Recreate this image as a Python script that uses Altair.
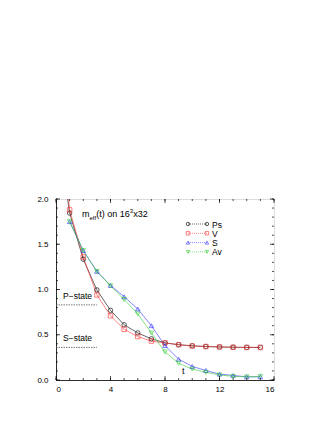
import altair as alt
import pandas as pd

t_ps = [0, 1, 2, 3, 4, 5, 6, 7, 8, 9, 10, 11, 12, 13, 14, 15]
ps = [2.9, 1.845, 1.335, 0.995, 0.77, 0.61, 0.52, 0.455, 0.41, 0.39, 0.378, 0.37, 0.365, 0.362, 0.36, 0.36]
t_v = [0, 1, 2, 3, 4, 5, 6, 7, 8, 9, 10, 11, 12, 13, 14, 15]
v = [3.6, 1.88, 1.36, 0.94, 0.71, 0.56, 0.48, 0.43, 0.41, 0.39, 0.375, 0.37, 0.365, 0.362, 0.36, 0.36]
t_s = [1, 2, 3, 4, 5, 6, 7, 8, 9, 10, 11, 12, 13, 14, 15]
s = [1.75, 1.43, 1.2, 1.045, 0.92, 0.785, 0.6, 0.38, 0.23, 0.15, 0.105, 0.065, 0.05, 0.035, 0.035]
t_av = [1, 2, 3, 4, 5, 6, 7, 8, 9, 10, 11, 12, 13, 14, 15]
av = [1.75, 1.43, 1.2, 1.04, 0.89, 0.73, 0.52, 0.31, 0.185, 0.12, 0.085, 0.055, 0.04, 0.035, 0.04]

series_names = ["Ps", "V", "S", "Av"]
series_colors = ["#000000", "#ff3333", "#3333ff", "#33cc33"]
series_shapes = ["circle", "square", "triangle-up", "triangle-down"]

x_major = [0, 4, 8, 12, 16]
x_minor = list(range(0, 17))
y_major = [0.0, 0.5, 1.0, 1.5, 2.0]
y_minor = [i / 10 for i in range(0, 21)]

state_names = ["P\u2212state", "S\u2212state"]
state_levels = [0.83, 0.36]
state_t_end = 3

W, H = 218, 181

rows = []
for name, ts, vals in [("Ps", t_ps, ps), ("V", t_v, v), ("S", t_s, s), ("Av", t_av, av)]:
    for a, b in zip(ts, vals):
        rows.append({"t": a, "m": b, "series": name})
df = pd.DataFrame(rows)

xs = alt.Scale(domain=[0, 16], nice=False)
ys = alt.Scale(domain=[0, 2], nice=False)
col = alt.Scale(domain=series_names, range=series_colors)
shp = alt.Scale(domain=series_names, range=series_shapes)

xaxis = alt.Axis(values=x_major, ticks=False, grid=False, labelFontSize=8, labelFont="Liberation Sans",
                 labelColor="black", domainColor="black", domainWidth=0.8, labelPadding=5, title=None)
yaxis = alt.Axis(values=y_major, ticks=False, grid=False, labelFontSize=8, labelFont="Liberation Sans",
                 labelColor="black", domainColor="black", domainWidth=0.8, labelPadding=8, format=".1f", title=None)

lines = alt.Chart(df).mark_line(strokeWidth=0.6, clip=True).encode(
    x=alt.X("t:Q", scale=xs, axis=xaxis),
    y=alt.Y("m:Q", scale=ys, axis=yaxis),
    color=alt.Color("series:N", scale=col, legend=None),
    detail="series:N",
)
points = alt.Chart(df).mark_point(filled=False, size=20, strokeWidth=0.9, clip=True).encode(
    x=alt.X("t:Q", scale=xs),
    y=alt.Y("m:Q", scale=ys),
    color=alt.Color("series:N", scale=col, legend=None),
    shape=alt.Shape("series:N", scale=shp, legend=None),
)

layers = [lines, points]

# ticks (inward, all four sides)
def xticks(vals, L):
    d = pd.DataFrame({"v": vals})
    b = alt.Chart(d).mark_rule(color="black", strokeWidth=0.7).encode(
        x=alt.X("v:Q", scale=xs), y=alt.value(H), y2=alt.value(H - L))
    t = alt.Chart(d).mark_rule(color="black", strokeWidth=0.7).encode(
        x=alt.X("v:Q", scale=xs), y=alt.value(0), y2=alt.value(L))
    return [b, t]

def yticks(vals, L):
    d = pd.DataFrame({"v": vals})
    l = alt.Chart(d).mark_rule(color="black", strokeWidth=0.7).encode(
        y=alt.Y("v:Q", scale=ys), x=alt.value(0), x2=alt.value(L))
    r = alt.Chart(d).mark_rule(color="black", strokeWidth=0.7).encode(
        y=alt.Y("v:Q", scale=ys), x=alt.value(W), x2=alt.value(W - L))
    return [l, r]

layers += xticks(x_minor, 2) + xticks(x_major, 4) + yticks(y_minor, 2) + yticks(y_major, 4)

# state reference lines
sdf = pd.DataFrame({"name": state_names, "lvl": state_levels, "t0": [0, 0], "t1": [state_t_end] * 2})
layers.append(alt.Chart(sdf).mark_rule(color="#555555", strokeWidth=0.8, strokeDash=[1.5, 1]).encode(
    x=alt.X("t0:Q", scale=xs), x2="t1:Q", y=alt.Y("lvl:Q", scale=ys)))
layers.append(alt.Chart(sdf).mark_text(align="left", baseline="alphabetic", fontSize=8.5,
                                       font="Liberation Sans", color="black", dx=7, dy=-6).encode(
    x=alt.value(0), y=alt.Y("lvl:Q", scale=ys), text="name:N"))

# title with sub/superscripts
def txt(s_, x, y, fs):
    return alt.Chart(pd.DataFrame({"a": [0]})).mark_text(
        text=s_, align="left", baseline="alphabetic", fontSize=fs, font="Liberation Sans", color="black"
    ).encode(x=alt.value(x), y=alt.value(y))

layers += [txt("m", 26, 18, 9), txt("eff", 33.5, 20.5, 6), txt("(t) on 16", 40.2, 18, 9),
           txt("3", 73.8, 14, 6), txt("x32", 77.2, 18, 9)]
layers.append(txt("t", 126, 175, 9))

# legend
for i, (name, c, sh) in enumerate(zip(series_names, series_colors, series_shapes)):
    yy = 25 + i * 9.3
    one = pd.DataFrame({"a": [0]})
    layers.append(alt.Chart(one).mark_rule(color=c, strokeWidth=0.6, strokeDash=[1, 1]).encode(
        x=alt.value(132), x2=alt.value(151), y=alt.value(yy)))
    for xx in (132, 151):
        layers.append(alt.Chart(one).mark_point(shape=sh, filled=False, size=12, color=c, strokeWidth=0.9).encode(
            x=alt.value(xx), y=alt.value(yy)))
    layers.append(alt.Chart(one).mark_text(text=name, align="left", baseline="middle", fontSize=8.5,
                                           font="Liberation Sans", color="black").encode(
        x=alt.value(156), y=alt.value(yy + 0.5)))

chart = alt.layer(*layers).properties(
    width=W, height=H,
    autosize=alt.AutoSizeParams(type="none"),
    padding={"left": 48, "top": 191, "right": 42, "bottom": 40},
).configure_view(stroke="black", strokeWidth=0.8).configure(background="white")

chart.save("out.html", embed_options={"renderer": "svg", "actions": False})
